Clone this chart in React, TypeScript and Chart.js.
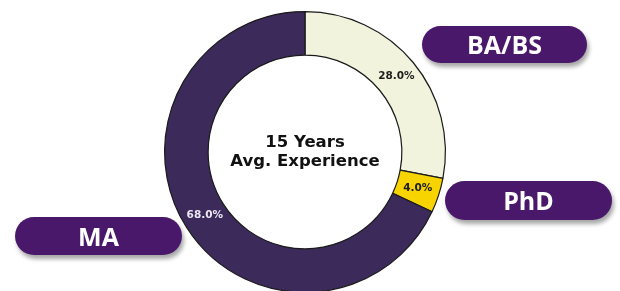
import React, { useEffect, useRef } from "react";
import { Chart, registerables } from "chart.js";

Chart.register(...registerables);

const categories = ["BA/BS", "PhD", "MA"];
const shares = [28, 4, 68];
const sliceColors = ["#f2f3dd", "#f7d400", "#3c2a5b"];
const pctColors = ["#1c1c1c", "#1c1c1c", "#ece8f2"];
const centerLines = ["15 Years", "Avg. Experience"];

const pills = [
  { text: "BA/BS", left: 422, top: 26, width: 165, height: 37 },
  { text: "PhD", left: 445, top: 181, width: 167, height: 39 },
  { text: "MA", left: 15, top: 217, width: 167, height: 38 },
];

const labelPlugin = {
  id: "labelPlugin",
  afterDraw(chart: any) {
    const ctx = chart.ctx;
    const meta = chart.getDatasetMeta(0);
    const data = chart.data.datasets[0].data as number[];
    const total = data.reduce((a: number, b: number) => a + b, 0);
    ctx.save();
    ctx.textAlign = "center";
    ctx.textBaseline = "middle";
    let cx = 0;
    let cy = 0;
    meta.data.forEach((arc: any, i: number) => {
      const p = arc.getProps(["x", "y", "startAngle", "endAngle", "innerRadius", "outerRadius"], true);
      cx = p.x;
      cy = p.y;
      const mid = (p.startAngle + p.endAngle) / 2;
      const r = (p.innerRadius + p.outerRadius) / 2;
      const x = p.x + Math.cos(mid) * r;
      const y = p.y + Math.sin(mid) * r;
      ctx.font = "bold 10.5px 'DejaVu Sans'";
      ctx.fillStyle = pctColors[i];
      ctx.fillText(((data[i] / total) * 100).toFixed(1) + "%", x, y);
    });
    ctx.fillStyle = "#111";
    ctx.font = "bold 16.5px 'DejaVu Sans'";
    ctx.fillText(centerLines[0], cx, cy - 9);
    ctx.fillText(centerLines[1], cx, cy + 10);
    ctx.restore();
  },
};

export default function App() {
  const ref = useRef<HTMLCanvasElement>(null);
  useEffect(() => {
    if (!ref.current) return;
    const chart = new Chart(ref.current, {
      type: "doughnut",
      data: {
        labels: categories,
        datasets: [
          {
            data: shares,
            backgroundColor: sliceColors,
            borderColor: "#1a1a1a",
            borderWidth: 1.2,
          },
        ],
      },
      options: {
        responsive: false,
        animation: false,
        cutout: "69%",
        layout: { padding: { top: 11, bottom: 11, left: 0, right: 10 } },
        plugins: {
          legend: { display: false },
          tooltip: { enabled: false },
        },
      },
      plugins: [labelPlugin],
    });
    return () => chart.destroy();
  }, []);

  return (
    <div
      style={{
        position: "fixed",
        left: 0,
        top: 0,
        width: 620,
        height: 291,
        overflow: "hidden",
        background: "#fff",
      }}
    >
      <canvas ref={ref} width={620} height={304} style={{ position: "absolute", left: 0, top: 0 }} />
      {pills.map((p) => (
        <div
          key={p.text}
          style={{
            position: "absolute",
            left: p.left,
            top: p.top,
            width: p.width,
            height: p.height,
            borderRadius: p.height / 2,
            background: "#49186b",
            boxShadow: "2px 4px 4px rgba(0,0,0,0.35)",
            color: "#fff",
            fontFamily: "'Open Sans', sans-serif",
            fontWeight: 700,
            fontSize: 25,
            display: "flex",
            alignItems: "center",
            justifyContent: "center",
            lineHeight: 1,
          }}
        >
          {p.text}
        </div>
      ))}
    </div>
  );
}
